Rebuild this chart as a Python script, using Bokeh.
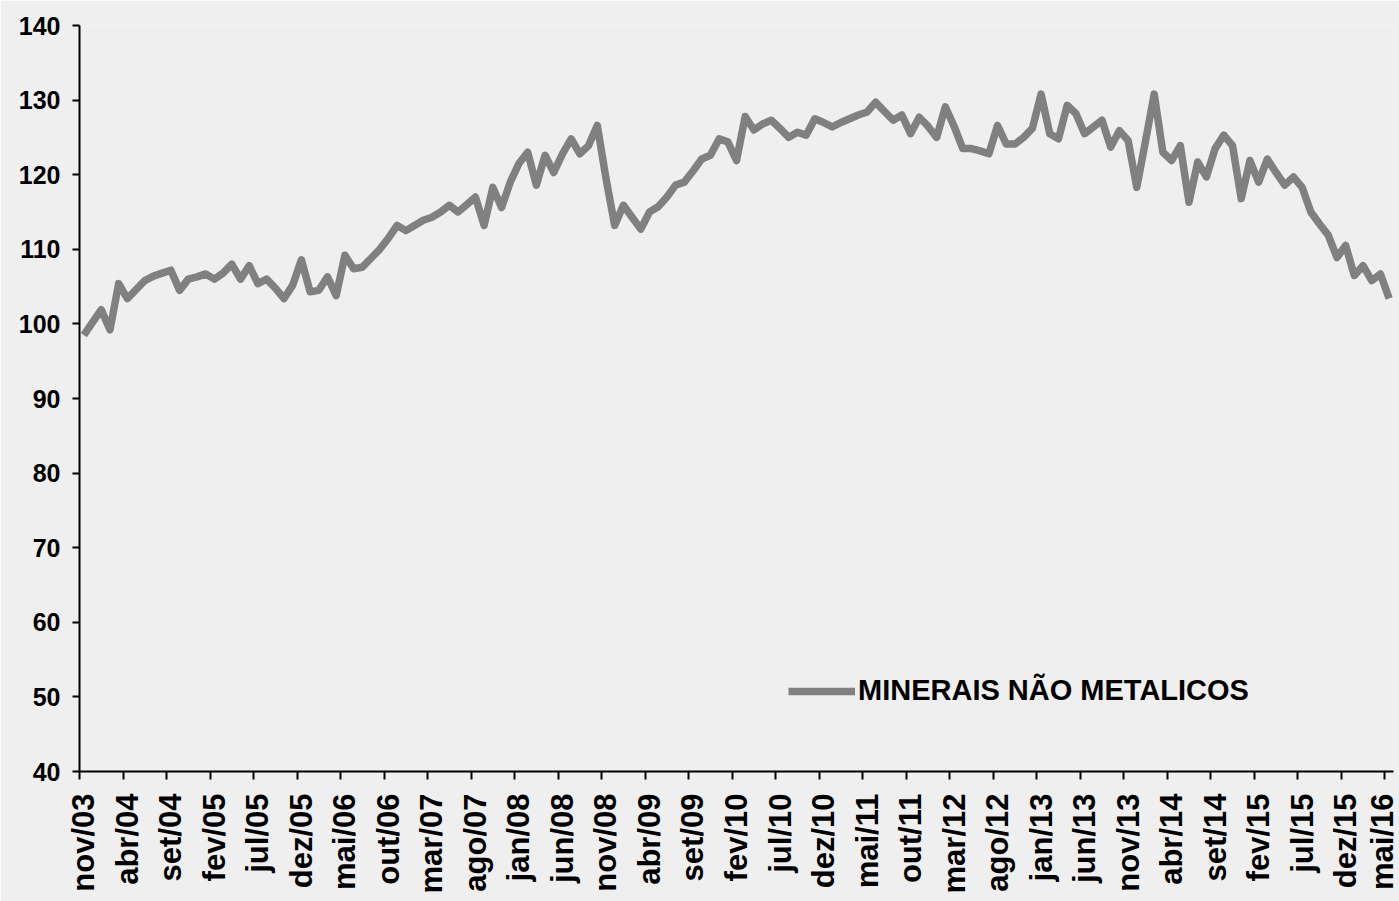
import math
from bokeh.plotting import figure
from bokeh.models import FixedTicker, Range1d, Legend, LegendItem
from bokeh.embed import file_html
from bokeh.resources import INLINE

series_name = "MINERAIS NÃO METALICOS"

values = [
    98.5, 100.2, 101.9, 99.2, 105.4, 103.4, 104.6, 105.8, 106.4, 106.8,
    107.2, 104.5, 106.0, 106.3, 106.7, 106.0, 106.8, 108.0, 106.0, 107.8,
    105.4, 106.0, 104.8, 103.4, 105.2, 108.6, 104.3, 104.5, 106.3, 103.8,
    109.2, 107.4, 107.6, 108.8, 110.0, 111.5, 113.2, 112.5, 113.2, 113.9,
    114.3, 115.0, 115.9, 115.0, 116.0, 117.0, 113.2, 118.3, 115.6, 119.0,
    121.5, 123.0, 118.6, 122.6, 120.3, 122.8, 124.8, 122.8, 123.9, 126.6,
    119.5, 113.2, 115.9, 114.3, 112.7, 115.0, 115.7, 117.0, 118.6, 119.0,
    120.5, 122.1, 122.6, 124.8, 124.4, 121.9, 127.8, 126.0, 126.8, 127.3,
    126.2, 125.0, 125.7, 125.3, 127.5, 127.0, 126.4, 127.0, 127.5, 128.0,
    128.4, 129.7, 128.5, 127.3, 128.0, 125.5, 127.7, 126.5, 125.0, 129.1,
    126.5, 123.5, 123.5, 123.2, 122.8, 126.6, 124.1, 124.1, 125.0, 126.2,
    130.8, 125.5, 124.8, 129.3, 128.2, 125.5, 126.4, 127.3, 123.7, 125.9,
    124.6, 118.3, 124.5, 130.8, 123.0, 121.9, 123.9, 116.3, 121.7, 119.7,
    123.5, 125.3, 123.9, 116.8, 121.9, 119.0, 122.1, 120.3, 118.6, 119.7,
    118.3, 115.0, 113.4, 111.9, 108.9, 110.5, 106.5, 107.8, 105.8, 106.7,
    103.4,
]

tick_labels = [
    "nov/03", "abr/04", "set/04", "fev/05", "jul/05", "dez/05", "mai/06",
    "out/06", "mar/07", "ago/07", "jan/08", "jun/08", "nov/08", "abr/09",
    "set/09", "fev/10", "jul/10", "dez/10", "mai/11", "out/11", "mar/12",
    "ago/12", "jan/13", "jun/13", "nov/13", "abr/14", "set/14", "fev/15",
    "jul/15", "dez/15", "mai/16",
]
label_step = 5
y_ticks = [40, 50, 60, 70, 80, 90, 100, 110, 120, 130, 140]

xs = list(range(len(values)))
label_pos = [k * label_step for k in range(len(tick_labels))]

BG = "#efefef"
FONT = "Liberation Sans"

p = figure(width=1399, height=901, output_backend="svg", toolbar_location=None,
           x_range=Range1d(-0.5, 150.5), y_range=Range1d(40, 140),
           min_border_left=79, min_border_right=6, min_border_top=25,
           min_border_bottom=130)
p.background_fill_color = BG
p.border_fill_color = BG
p.outline_line_color = None
p.grid.visible = False

r = p.line(xs, values, line_color="#808080", line_width=7.5, line_join="round")

# x axis
xa = p.xaxis[0]
xa.ticker = FixedTicker(ticks=label_pos, minor_ticks=[t - 0.5 for t in label_pos])
xa.major_label_overrides = {pos: lab for pos, lab in zip(label_pos, tick_labels)}
xa.major_label_orientation = math.pi / 2
xa.major_tick_line_color = None
xa.major_tick_out = 0
xa.major_tick_in = 0
xa.minor_tick_line_color = "black"
xa.minor_tick_line_width = 2
xa.minor_tick_out = 8
xa.minor_tick_in = 0
xa.major_label_standoff = 14
xa.major_label_text_font = FONT
xa.major_label_text_font_style = "bold"
xa.major_label_text_font_size = "31px"
xa.major_label_text_color = "black"
xa.axis_line_color = "black"
xa.axis_line_width = 2

# y axis
ya = p.yaxis[0]
ya.ticker = FixedTicker(ticks=y_ticks)
ya.minor_tick_line_color = None
ya.major_tick_out = 7
ya.major_tick_in = 0
ya.major_tick_line_width = 2
ya.major_tick_line_color = "black"
ya.major_label_standoff = 12
ya.major_label_text_font = FONT
ya.major_label_text_font_style = "bold"
ya.major_label_text_font_size = "25px"
ya.major_label_text_color = "black"
ya.axis_line_color = "black"
ya.axis_line_width = 2

legend = Legend(items=[LegendItem(label=series_name, renderers=[r])],
                location=(709, 64), orientation="vertical",
                background_fill_alpha=0, border_line_color=None,
                padding=0, margin=0, glyph_width=67, glyph_height=20,
                label_standoff=3, label_text_font=FONT,
                label_text_font_style="bold", label_text_font_size="29px",
                label_text_color="black")
p.add_layout(legend, "center")

open("out.html", "w").write(file_html(p, INLINE))
